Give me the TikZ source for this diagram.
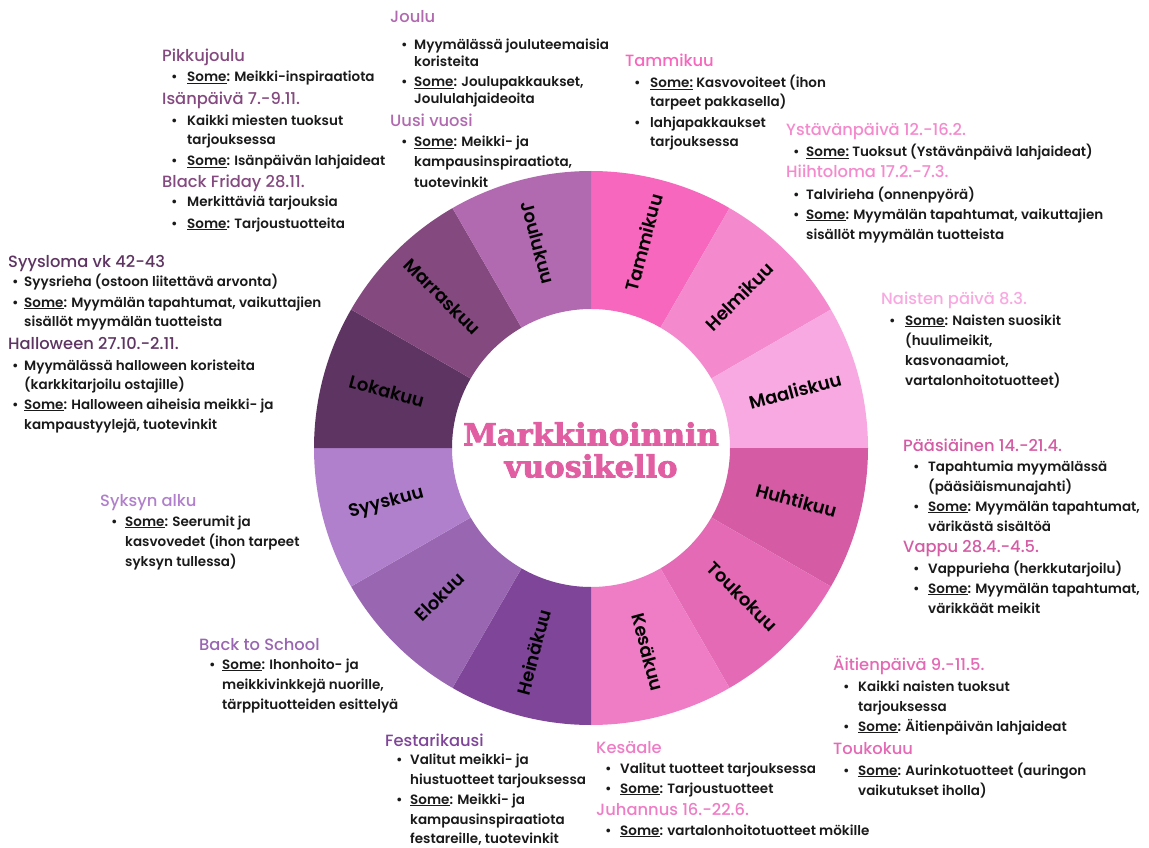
\documentclass[tikz,border=0pt]{standalone}
\usepackage{fontspec}
\setmainfont{Poppins}
\IfFontExistsTF{Poppins SemiBold}{\newfontfamily\bodyfont{Poppins SemiBold}}{%
  \IfFontExistsTF{Poppins Medium}{\newfontfamily\bodyfont{Poppins Medium}[FakeBold=0.6]}{\newfontfamily\bodyfont{Poppins}[FakeBold=1.2]}}
\IfFontExistsTF{Poppins Medium}{\newfontfamily\headfont{Poppins Medium}}{\newfontfamily\headfont{Poppins}}
\newfontfamily\titlefont{DejaVu Serif Bold}[FakeBold=2.5]
\definecolor{cJan}{HTML}{F767BD}
\definecolor{cFeb}{HTML}{F48ACD}
\definecolor{cMar}{HTML}{F9A9E1}
\definecolor{cApr}{HTML}{D45BA4}
\definecolor{cMay}{HTML}{E46AB5}
\definecolor{cJun}{HTML}{EE7DC6}
\definecolor{cJul}{HTML}{7F4598}
\definecolor{cAug}{HTML}{9966B2}
\definecolor{cSep}{HTML}{B180CC}
\definecolor{cOct}{HTML}{5E3462}
\definecolor{cNov}{HTML}{84497F}
\definecolor{cDec}{HTML}{B16AB0}
\definecolor{ctitle}{HTML}{E25EA2}
\definecolor{ink}{HTML}{1A1A1A}
\tikzset{
  hd/.style={font=\headfont\fontsize{16.3}{18}\selectfont, anchor=base west, inner sep=0pt, text height=11pt, text depth=3pt},
  bd/.style={font=\bodyfont\fontsize{13.5}{16}\selectfont, text=ink, anchor=base west, inner sep=0pt, text height=9.5pt, text depth=3pt},
  month/.style={font=\bodyfont\fontsize{18}{20}\selectfont, text=black, inner sep=0pt, text height=12pt, text depth=3pt},
}
\newcommand\hdr[5]{\node[hd, text=#2] (#1) at (#3,#4) {#5};}
\newcommand\bul[5]{\node[bd] (#1b) at (#2,#4) {\textbullet}; \node[bd] (#1) at (#3,#4) {#5};}
\newcommand\cnt[4]{\node[bd] (#1) at (#2,#3) {#4};}
\newcommand\so{\underline{Some}}
\begin{document}
\begin{tikzpicture}[x=1pt,y=-1pt]
\fill[white] (0,0) rectangle (1149,848);
\useasboundingbox (0,0) rectangle (1149,848);
% wheel
\begin{scope}[shift={(591pt,-448pt)}]
\foreach \i/\c in {0/cJan,1/cFeb,2/cMar,3/cApr,4/cMay,5/cJun,6/cJul,7/cAug,8/cSep,9/cOct,10/cNov,11/cDec}{
  \pgfmathsetmacro\a{90-30*\i}
  \pgfmathsetmacro\b{60-30*\i}
  \fill[\c] (\a:139pt) arc[start angle=\a, end angle=\b, radius=139pt] -- (\b:277pt) arc[start angle=\b, end angle=\a, radius=277pt] -- cycle;
}
\foreach \i/\n in {0/Tammikuu,1/Helmikuu,2/Maaliskuu,3/Huhtikuu,4/Toukokuu,5/Kesäkuu,6/Heinäkuu,7/Elokuu,8/Syyskuu,9/Lokakuu,10/Marraskuu,11/Joulukuu}{
  \pgfmathsetmacro\m{75-30*\i}
  \pgfmathsetmacro\r{\i<6 ? \m : \m+180}
  \node[month, rotate=\r] (m\i) at (\m:212pt) {\n};
}
\end{scope}
\node[font=\titlefont\fontsize{30.5}{32}\selectfont, text=ctitle, align=center] (title) at (591,450) {Markkinoinnin\\vuosikello};
% Joulu
\hdr{jo}{cDec}{390}{23}{Joulu}
\bul{j1}{401}{414}{50}{Myymälässä jouluteemaisia}
\cnt{j2}{414}{67}{koristeita}
\bul{j3}{401}{414}{87}{\so: Joulupakkaukset,}
\cnt{j4}{414}{104}{Joululahjaideoita}
\hdr{uv}{cDec}{390}{127}{Uusi vuosi}
\bul{u1}{401}{414}{147}{\so: Meikki- ja}
\cnt{u2}{414}{167}{kampausinspiraatiota,}
\cnt{u3}{414}{187}{tuotevinkit}
% Pikkujoulu
\hdr{pj}{cNov}{162}{62}{Pikkujoulu}
\bul{p1}{171}{187}{82}{\so: Meikki-inspiraatiota}
\hdr{ip}{cNov}{162}{105}{Isänpäivä 7.-9.11.}
\bul{i1}{171}{187}{126}{Kaikki miesten tuoksut}
\cnt{i2}{187}{145}{tarjouksessa}
\bul{i3}{171}{187}{166}{\so: Isänpäivän lahjaideat}
\hdr{bf}{cNov}{162}{188}{Black Friday 28.11.}
\bul{b1}{171}{187}{207}{Merkittäviä tarjouksia}
\bul{b2}{171}{187}{228}{\so: Tarjoustuotteita}
% Tammikuu
\hdr{tm}{cJan}{625}{67}{Tammikuu}
\bul{t1}{634}{650}{88}{\underline{Some:} Kasvovoiteet (ihon}
\cnt{t2}{650}{107}{tarpeet pakkasella)}
\bul{t3}{634}{650}{128}{lahjapakkaukset}
\cnt{t4}{650}{147}{tarjouksessa}
% Ystavanpaiva
\hdr{yp}{cFeb}{786}{136}{Ystävänpäivä 12.-16.2.}
\bul{y1}{793}{806}{157}{\underline{Some:} Tuoksut (Ystävänpäivä lahjaideat)}
\hdr{hl}{cFeb}{786}{178}{Hiihtoloma 17.2.-7.3.}
\bul{h1}{793}{806}{199}{Talvirieha (onnenpyörä)}
\bul{h2}{793}{806}{219}{\so: Myymälän tapahtumat, vaikuttajien}
\cnt{h3}{806}{239}{sisällöt myymälän tuotteista}
% Naisten paiva
\hdr{np}{cMar}{881}{304}{Naisten päivä 8.3.}
\bul{n1}{889}{905}{325}{\so: Naisten suosikit}
\cnt{n2}{905}{345}{(huulimeikit,}
\cnt{n3}{905}{365}{kasvonaamiot,}
\cnt{n4}{905}{385}{vartalonhoitotuotteet)}
% Paasiainen
\hdr{ps}{cApr}{903}{451}{Pääsiäinen 14.-21.4.}
\bul{pa1}{913}{928}{471}{Tapahtumia myymälässä}
\cnt{pa2}{928}{491}{(pääsiäismunajahti)}
\bul{pa3}{913}{928}{511}{\so: Myymälän tapahtumat,}
\cnt{pa4}{928}{531}{värikästä sisältöä}
\hdr{va}{cApr}{903}{552}{Vappu 28.4.-4.5.}
\bul{v1}{913}{928}{573}{Vappurieha (herkkutarjoilu)}
\bul{v2}{913}{928}{593}{\so: Myymälän tapahtumat,}
\cnt{v3}{928}{613}{värikkäät meikit}
% Syysloma
\hdr{sl}{cOct}{8}{267}{Syysloma vk 42-43}
\bul{s1}{12}{24}{286}{Syysrieha (ostoon liitettävä arvonta)}
\bul{s2}{12}{24}{307}{\so: Myymälän tapahtumat, vaikuttajien}
\cnt{s3}{24}{326}{sisällöt myymälän tuotteista}
\hdr{hw}{cOct}{8}{349}{Halloween 27.10.-2.11.}
\bul{w1}{12}{24}{370}{Myymälässä halloween koristeita}
\cnt{w2}{24}{389}{(karkkitarjoilu ostajille)}
\bul{w3}{12}{24}{409}{\so: Halloween aiheisia meikki- ja}
\cnt{w4}{24}{429}{kampaustyylejä, tuotevinkit}
% Syksyn alku
\hdr{sa}{cSep}{100}{506}{Syksyn alku}
\bul{sa1}{111}{125}{526}{\so: Seerumit ja}
\cnt{sa2}{125}{546}{kasvovedet (ihon tarpeet}
\cnt{sa3}{125}{566}{syksyn tullessa)}
% Back to School
\hdr{bts}{cAug}{199}{650}{Back to School}
\bul{bs1}{209}{222}{669}{\so: Ihonhoito- ja}
\cnt{bs2}{222}{689}{meikkivinkkejä nuorille,}
\cnt{bs3}{222}{709}{tärppituotteiden esittelyä}
% Festarikausi
\hdr{fk}{cJul}{385}{746}{Festarikausi}
\bul{f1}{396}{410}{764}{Valitut meikki- ja}
\cnt{f2}{410}{784}{hiustuotteet tarjouksessa}
\bul{f3}{396}{410}{804}{\so: Meikki- ja}
\cnt{f4}{410}{824}{kampausinspiraatiota}
\cnt{f5}{410}{843}{festareille, tuotevinkit}
% Kesaale
\hdr{ka}{cJun}{596}{753}{Kesäale}
\bul{k1}{605}{620}{773}{Valitut tuotteet tarjouksessa}
\bul{k2}{605}{620}{793}{\so: Tarjoustuotteet}
\hdr{ju}{cJun}{596}{815}{Juhannus 16.-22.6.}
\bul{ju1}{605}{620}{835}{\so: vartalonhoitotuotteet mökille}
% Aitienpaiva
\hdr{ap}{cMay}{833}{670}{Äitienpäivä 9.-11.5.}
\bul{a1}{843}{858}{691}{Kaikki naisten tuoksut}
\cnt{a2}{858}{711}{tarjouksessa}
\bul{a3}{843}{858}{731}{\so: Äitienpäivän lahjaideat}
\hdr{tk}{cMay}{833}{754}{Toukokuu}
\bul{tk1}{843}{858}{775}{\so: Aurinkotuotteet (auringon}
\cnt{tk2}{858}{795}{vaikutukset iholla)}
\end{tikzpicture}
\end{document}
